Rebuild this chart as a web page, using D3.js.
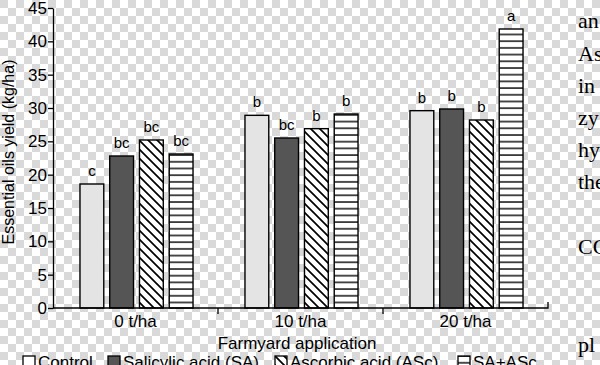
<!DOCTYPE html>
<html lang="en">
<head>
<meta charset="UTF-8">
<title>Essential oils yield</title>
<script src="https://cdn.jsdelivr.net/npm/d3@7/dist/d3.min.js"></script>
<style>
    body { margin: 0; }
    svg { display: block; }
    .axis text { font: 17px "Liberation Sans", Arial, sans-serif; fill: #000; }
    .axis path, .axis line { stroke: #000; stroke-width: 1.3px; }
    .lbl { font: 17px "Liberation Sans", Arial, sans-serif; fill: #000; }
    .side { font: 22px "Liberation Serif", "Times New Roman", serif; fill: #000; }
</style>
</head>
<body>
<svg id="chart" width="600" height="365"></svg>
<script>
    // data
    const groups = ["0 t/ha", "10 t/ha", "20 t/ha"];
    const series = ["Control", "Salicylic acid (SA)", "Ascorbic acid (ASc)", "SA+ASc"];
    const control = [18.6, 28.9, 29.6];
    const sa = [22.8, 25.5, 29.85];
    const asc = [25.2, 26.9, 28.2];
    const saAsc = [23.1, 29.1, 41.85];
    const letters = [["c", "bc", "bc", "bc"], ["b", "bc", "b", "b"], ["b", "b", "b", "a"]];
    const yTicks = [0, 5, 10, 15, 20, 25, 30, 35, 40, 45];
    // the page text to the right of the figure
    const sideText = ["an", "As", "in", "zy", "hy", "the", "CC", "pl"];
    const sideBase = [28, 61, 93, 125, 157, 189, 254, 352];

    const values = [control, sa, asc, saAsc];

    const svg = d3.select("#chart");
    const defs = svg.append("defs");

    // checkered transparency background
    const chk = defs.append("pattern").attr("id", "chk")
        .attr("width", 16).attr("height", 16).attr("patternUnits", "userSpaceOnUse");
    chk.append("rect").attr("width", 16).attr("height", 16).attr("fill", "#fff");
    chk.append("rect").attr("width", 8).attr("height", 8).attr("fill", "#d9d9d9");
    chk.append("rect").attr("x", 8).attr("y", 8).attr("width", 8).attr("height", 8).attr("fill", "#d9d9d9");
    svg.append("rect").attr("width", 600).attr("height", 365).attr("fill", "url(#chk)");

    // diagonal hatch for ASc
    const diag = defs.append("pattern").attr("id", "diag")
        .attr("width", 9).attr("height", 9).attr("patternUnits", "userSpaceOnUse");
    diag.append("rect").attr("width", 9).attr("height", 9).attr("fill", "#fff");
    diag.append("path").attr("d", "M-2,-2 L11,11 M-2,7 L2,11 M7,-2 L11,2")
        .attr("stroke", "#000").attr("stroke-width", 1.7);

    // horizontal lines for SA+ASc
    const horiz = defs.append("pattern").attr("id", "horiz")
        .attr("width", 10).attr("height", 6.7).attr("patternUnits", "userSpaceOnUse");
    horiz.append("rect").attr("width", 10).attr("height", 6.7).attr("fill", "#fff");
    horiz.append("line").attr("x1", 0).attr("x2", 10).attr("y1", 1).attr("y2", 1)
        .attr("stroke", "#000").attr("stroke-width", 1.4);

    const fills = ["#e4e4e4", "#555555", "url(#diag)", "url(#horiz)"];

    const x0 = d3.scaleBand().domain(groups).range([53, 548]);
    const x1 = d3.scaleBand().domain(series).range([24, 143]).paddingInner(0.2).paddingOuter(0.1);
    const y = d3.scaleLinear().domain([0, 45]).range([308, 8]);

    // bars
    groups.forEach((g, gi) => {
        const gg = svg.append("g").attr("transform", `translate(${x0(g)},0)`);
        series.forEach((s, si) => {
            const v = values[si][gi];
            gg.append("rect")
                .attr("x", x1(s)).attr("y", y(v))
                .attr("width", x1.bandwidth()).attr("height", y(0) - y(v))
                .attr("fill", fills[si]).attr("stroke", "#000").attr("stroke-width", 1.4);
            gg.append("text").attr("class", "lbl")
                .attr("x", x1(s) + x1.bandwidth() / 2).attr("y", y(v) - 8)
                .attr("text-anchor", "middle").style("font-size", "15px")
                .text(letters[gi][si]);
        });
    });

    // axes
    svg.append("g").attr("class", "axis")
        .attr("transform", "translate(53,0)")
        .call(d3.axisLeft(y).tickValues(yTicks).tickSize(5).tickPadding(1).tickSizeOuter(0));

    const xAxis = svg.append("g").attr("class", "axis")
        .attr("transform", "translate(0,308)")
        .call(d3.axisBottom(x0).tickSize(0).tickPadding(7));
    xAxis.select(".domain").attr("d", "M53,0H548V-6");
    // group boundary ticks
    xAxis.selectAll(".bnd").data(groups.slice(1)).enter().append("line")
        .attr("class", "bnd")
        .attr("x1", d => x0(d)).attr("x2", d => x0(d))
        .attr("y1", 0).attr("y2", 6);

    svg.append("text").attr("class", "lbl")
        .attr("x", 297).attr("y", 349).attr("text-anchor", "middle")
        .text("Farmyard application");

    svg.append("text").attr("class", "lbl")
        .attr("transform", "translate(14,152) rotate(-90)")
        .attr("text-anchor", "middle").style("font-size", "16px")
        .text("Essential oils yield (kg/ha)");

    // legend (cut by the bottom edge, as in the source)
    const legX = [23, 108, 275, 458];
    const leg = svg.append("g");
    series.forEach((s, i) => {
        leg.append("rect").attr("x", legX[i]).attr("y", 356).attr("width", 12).attr("height", 12)
            .attr("fill", fills[i] === "#e4e4e4" ? "#fff" : fills[i])
            .attr("stroke", "#000").attr("stroke-width", 1.3);
        leg.append("text").attr("class", "lbl")
            .attr("x", legX[i] + 15).attr("y", 368)
            .text(s);
    });

    // neighbouring page text
    svg.selectAll(".side").data(sideText).enter().append("text")
        .attr("class", "side")
        .attr("x", 578).attr("y", (d, i) => sideBase[i])
        .text(d => d);
</script>
</body>
</html>
